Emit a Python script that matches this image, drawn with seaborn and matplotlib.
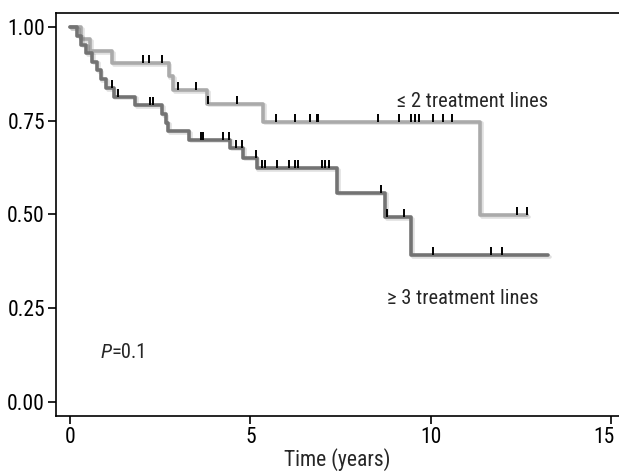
import numpy as np
import pandas as pd
import matplotlib
matplotlib.use("Agg")
import matplotlib.pyplot as plt
import matplotlib.patheffects as pe
import matplotlib.transforms as mtransforms
from matplotlib.path import Path
import seaborn as sns

# step points of the two survival curves (years, survival)
low_times = [0, 0.30, 0.55, 1.16, 2.73, 2.86, 3.80, 5.35, 11.37, 12.67]
low_surv = [1.0, 0.967, 0.935, 0.903, 0.868, 0.832, 0.795, 0.747, 0.499, 0.499]
low_censor = [2.02, 2.19, 2.55, 3.00, 3.50, 3.83, 4.62, 5.71, 6.23, 6.64, 6.85, 6.88,
              8.53, 9.12, 9.45, 9.57, 9.68, 10.07, 10.34, 10.60, 12.39, 12.67]

high_times = [0, 0.19, 0.30, 0.45, 0.62, 0.75, 0.85, 1.00, 1.21, 1.81, 2.55, 2.65,
              2.72, 3.30, 4.43, 4.80, 5.17, 7.41, 8.73, 9.45, 13.26]
high_surv = [1.0, 0.977, 0.953, 0.930, 0.907, 0.884, 0.860, 0.837, 0.814, 0.791,
             0.768, 0.745, 0.722, 0.699, 0.678, 0.651, 0.623, 0.558, 0.493, 0.392, 0.392]
high_censor = [1.15, 1.32, 2.22, 2.30, 3.63, 3.69, 4.23, 4.41, 4.60, 4.76, 5.15, 5.31,
               5.41, 5.73, 6.08, 6.24, 6.33, 6.98, 7.07, 7.19, 8.62, 8.80, 9.26,
               10.07, 11.67, 11.97]

x_ticks = [0, 5, 10, 15]
y_ticks = [0.0, 0.25, 0.5, 0.75, 1.0]
y_labels = ["0.00", "0.25", "0.50", "0.75", "1.00"]

FS = 15.5

sns.set_theme(style="ticks")
plt.rcParams["font.family"] = ["Liberation Sans Narrow", "Roboto Condensed", "DejaVu Sans"]
plt.rcParams["axes.linewidth"] = 1.2

fig = plt.figure(figsize=(6.19, 4.74), dpi=100)
ax = fig.add_axes([0.0905, 0.1224, 0.9095, 0.8502])

curves = pd.concat([
    pd.DataFrame({"time": low_times, "surv": low_surv, "group": "low"}),
    pd.DataFrame({"time": high_times, "surv": high_surv, "group": "high"}),
])
colors = {"low": "#aaaaaa", "high": "#737373"}
shadow = [pe.SimpleLineShadow(offset=(1.2, -1.2), shadow_color="#000000", alpha=0.12),
          pe.Normal()]

for grp in ["low", "high"]:
    sub = curves[curves["group"] == grp]
    sns.lineplot(data=sub, x="time", y="surv", color=colors[grp], lw=2.6,
                 drawstyle="steps-post", estimator=None, sort=False, ax=ax,
                 path_effects=shadow)

# censor marks sit on top of the curve
tick_marker = Path([(0, 0), (0, 1)])


def surv_at(times, surv, t):
    idx = np.searchsorted(times, t, side="right") - 1
    return np.array(surv)[idx]


for times, surv, cens in [(low_times, low_surv, low_censor),
                          (high_times, high_surv, high_censor)]:
    ax.plot(cens, surv_at(times, surv, cens), linestyle="none", marker=tick_marker,
            markersize=11, markeredgewidth=1.4, color="black")

ax.set_xlim(-0.39, 15.22)
ax.set_ylim(-0.037, 1.037)
ax.set_xticks(x_ticks)
ax.set_yticks(y_ticks)
ax.set_yticklabels(y_labels)
ax.tick_params(axis="both", length=6, width=1.2, labelsize=FS, colors="black", pad=2)
ax.spines["right"].set_visible(False)
for s in ["left", "bottom", "top"]:
    ax.spines[s].set_color("black")
ax.set_xlabel("Time (years)", fontsize=FS, labelpad=0)
ax.set_ylabel("")

# keep the last x label inside the figure edge
last = ax.get_xticklabels()[-1]
last.set_transform(last.get_transform() +
                   mtransforms.ScaledTranslation(-5 / 72, 0, fig.dpi_scale_trans))

ax.text(9.07, 0.80, "\u2264 2 treatment lines", fontsize=14.8, va="center", ha="left")
ax.text(8.79, 0.277, "\u2265 3 treatment lines", fontsize=14.8, va="center", ha="left")
p_txt = ax.text(0.83, 0.133, "P", fontsize=14.8, va="center", ha="left", style="italic")
ax.annotate("=0.1", xy=(1, 0.5), xycoords=p_txt, fontsize=14.8, va="center", ha="left")

fig.savefig("out.png", dpi=100)
